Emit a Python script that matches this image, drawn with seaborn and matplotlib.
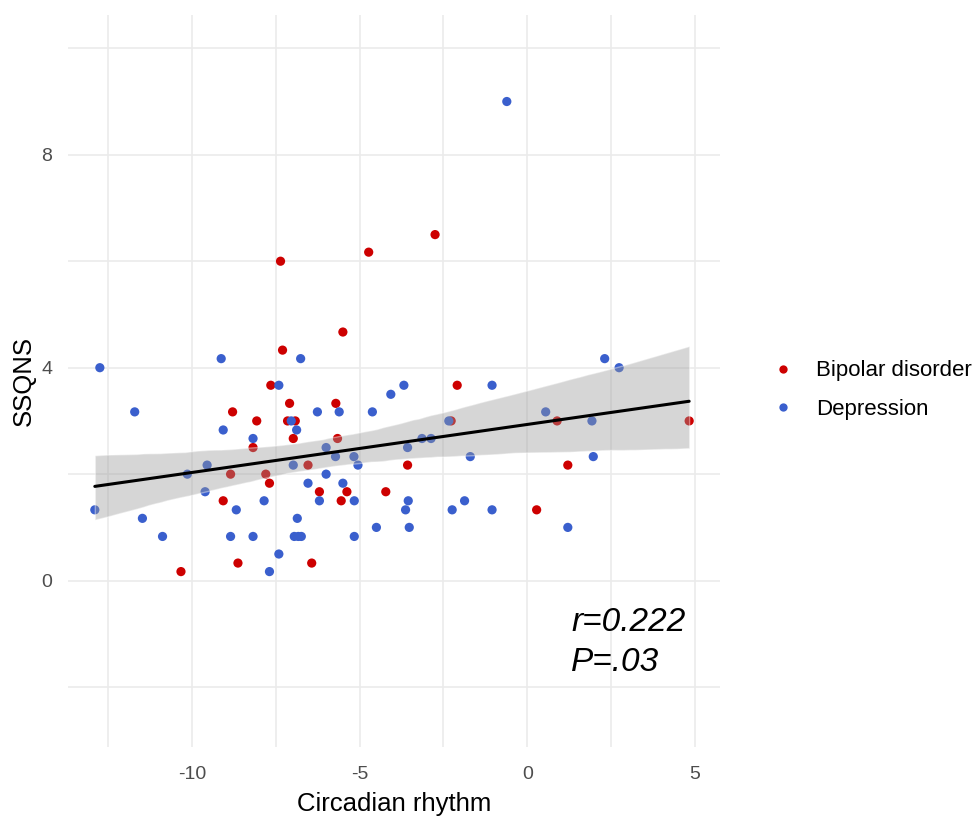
import pandas as pd
import matplotlib.pyplot as plt
import seaborn as sns
from matplotlib.ticker import MultipleLocator

# --- DADOS ---
bipolar_x = [-2.75, -4.73, -7.36, -5.50, -7.30, -7.65, -2.09, -7.09, -5.71, -8.79,
             -8.07, -7.15, -6.92, -2.27, 0.89, 4.83, -6.98, -5.66, -8.18, -6.54,
             -3.57, 1.21, -8.85, -7.80, -7.69, -6.20, -5.38, -4.22, -9.07, -5.55,
             0.28, -8.63, -6.43, -10.33]
bipolar_y = [6.50, 6.17, 6.00, 4.67, 4.33, 3.67, 3.67, 3.33, 3.33, 3.17,
             3.00, 3.00, 3.00, 3.00, 3.00, 3.00, 2.67, 2.67, 2.50, 2.17,
             2.17, 2.17, 2.00, 2.00, 1.83, 1.67, 1.67, 1.67, 1.50, 1.50,
             1.33, 0.33, 0.33, 0.17]

depressao_x = [-0.61, -12.75, 2.74, -9.13, -6.76, 2.31, -7.41, -3.68, -1.05, -4.07,
               -11.71, -6.26, -5.61, -4.62, 0.55, -7.04, -2.34, 1.93, -9.07, -6.88,
               -8.18, -3.14, -2.87, -6.00, -3.57, -5.72, -5.17, -1.70, 1.97, -9.55,
               -6.98, -5.05, -10.14, -6.00, -6.54, -5.50, -9.61, -7.85, -6.20, -5.16,
               -3.55, -1.87, -12.90, -8.68, -3.63, -2.24, -1.05, -11.48, -6.86, -4.50,
               -3.52, 1.21, -10.88, -8.85, -8.18, -6.95, -6.83, -6.74, -5.16, -7.41,
               -7.69]
depressao_y = [9.00, 4.00, 4.00, 4.17, 4.17, 4.17, 3.67, 3.67, 3.67, 3.50,
               3.17, 3.17, 3.17, 3.17, 3.17, 3.00, 3.00, 3.00, 2.83, 2.83,
               2.67, 2.67, 2.67, 2.50, 2.50, 2.33, 2.33, 2.33, 2.33, 2.17,
               2.17, 2.17, 2.00, 2.00, 1.83, 1.83, 1.67, 1.50, 1.50, 1.50,
               1.50, 1.50, 1.33, 1.33, 1.33, 1.33, 1.33, 1.17, 1.17, 1.00,
               1.00, 1.00, 0.83, 0.83, 0.83, 0.83, 0.83, 0.83, 0.83, 0.50,
               0.17]

grupos = ["Bipolar disorder", "Depression"]
cores = {"Bipolar disorder": "#CD0000", "Depression": "#3A5FCD"}
anotacao = ["r=0.222", "P=.03"]

df = pd.DataFrame({
    "Circadian rhythm": bipolar_x + depressao_x,
    "SSQNS": bipolar_y + depressao_y,
    "grupo": [grupos[0]] * len(bipolar_x) + [grupos[1]] * len(depressao_x),
})

# --- ESTILO ---
sns.set_theme(style="white")
plt.rcParams['font.family'] = ['Liberation Sans', 'DejaVu Sans']
plt.rcParams['axes.unicode_minus'] = False

fig = plt.figure(figsize=(9.8, 8.16), dpi=100)
ax = fig.add_axes([68 / 980, 1 - 747 / 816, (720 - 68) / 980, (747 - 15) / 816])

# pontos
sns.scatterplot(data=df, x="Circadian rhythm", y="SSQNS", hue="grupo",
                palette=cores, hue_order=grupos, s=44, linewidth=0,
                ax=ax, zorder=2)
handles, labels = ax.get_legend_handles_labels()

# reta de regressão com IC (todos os dados)
sns.regplot(data=df, x="Circadian rhythm", y="SSQNS", scatter=False,
            color="black", line_kws={"lw": 2.2, "zorder": 4}, seed=7, ax=ax)
banda = ax.collections[-1]
banda.set_facecolor("#999999")
banda.set_alpha(0.4)
banda.set_zorder(3)

# eixos
ax.set_xlim(-13.7, 5.75)
ax.set_ylim(-3.125, 10.625)
ax.xaxis.set_major_locator(MultipleLocator(5))
ax.xaxis.set_minor_locator(MultipleLocator(2.5))
ax.yaxis.set_major_locator(MultipleLocator(4))
ax.yaxis.set_minor_locator(MultipleLocator(2))
ax.grid(which="major", color="#EBEBEB", lw=1.2)
ax.grid(which="minor", color="#EBEBEB", lw=1.2)
ax.set_axisbelow(True)
for s in ax.spines.values():
    s.set_visible(False)
ax.tick_params(which="both", length=0, labelsize=14, labelcolor="#4D4D4D")
ax.tick_params(axis="x", pad=14)
ax.tick_params(axis="y", pad=11.5)

ax.set_xlabel("Circadian rhythm", fontsize=18.5, color="black", labelpad=6)
ax.set_ylabel("SSQNS", fontsize=18.5, color="black", labelpad=4)

# anotação
ax.text(1.31, -0.78, anotacao[0], fontsize=24, style="italic", color="black",
        ha="left", va="center")
ax.text(1.31, -1.53, anotacao[1], fontsize=24, style="italic", color="black",
        ha="left", va="center")

# legenda
leg = ax.legend(handles, labels, loc="center left", bbox_to_anchor=(772 / 980, 1 - 390 / 816),
                bbox_transform=fig.transFigure, frameon=False, fontsize=16,
                handlelength=1.0, handletextpad=1.0, labelspacing=0.78,
                borderpad=0, borderaxespad=0, markerscale=0.9)
for t in leg.get_texts():
    t.set_color("black")

fig.savefig("out.png", dpi=100)
